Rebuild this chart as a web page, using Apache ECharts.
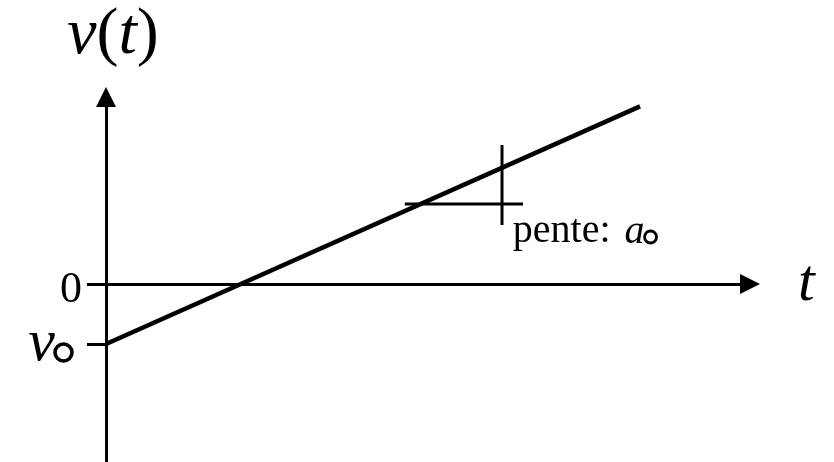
<!DOCTYPE html>
<html>
<head>
<meta charset="utf-8">
<script src="https://cdn.jsdelivr.net/npm/echarts@6/dist/echarts.min.js"></script>
<style>
  html, body { margin: 0; padding: 0; background: #fff; }
  #chart { width: 834px; height: 462px; }
</style>
</head>
<body>
<div id="chart"></div>
<script>
// Velocity v(t) = v0 + a0 * t, drawn over the time axis
const lineT = [0, 8.9];
const lineV = [-1, 2.96];
const v0 = -1;

// Slope marker: a horizontal run and a vertical rise
const runT = [4.98, 6.95];
const runV = [1.333, 1.333];
const riseT = [6.6, 6.6];
const riseV = [2.317, 0.983];

// Where the slope caption sits
const captionT = [6.78];
const captionV = [0.867];

const yTicks = [0, v0];

const serif = '"Liberation Serif", "DejaVu Serif", serif';

function pairs(xs, ys) {
  return xs.map((x, i) => [x, ys[i]]);
}

// hollow "circ" subscript drawn as a round bordered box, sitting on the line bottom
function circ(d, bw) {
  return {
    width: d, height: d, borderRadius: d, borderWidth: bw, borderColor: '#000',
    backgroundColor: 'transparent', color: 'transparent', fontSize: 4,
    verticalAlign: 'bottom'
  };
}

const chart = echarts.init(document.getElementById('chart'), null, { renderer: 'canvas' });

chart.setOption({
  animation: false,
  backgroundColor: '#fff',
  grid: { left: 106, right: 84, top: 97, bottom: 0, containLabel: false },
  xAxis: {
    type: 'value',
    min: 0,
    max: 10.733,
    axisLine: {
      onZero: true,
      symbol: ['none', 'triangle'],
      symbolSize: [20, 20],
      lineStyle: { color: '#000', width: 3 }
    },
    axisTick: { show: false },
    axisLabel: { show: false },
    splitLine: { show: false },
    name: 't',
    nameLocation: 'end',
    nameGap: 48,
    nameTextStyle: {
      fontFamily: serif, fontStyle: 'italic', fontSize: 60, color: '#000',
      verticalAlign: 'middle', padding: [0, 0, 8, 0]
    }
  },
  yAxis: {
    type: 'value',
    min: -2.967,
    max: 3.117,
    axisLine: {
      onZero: false,
      symbol: ['none', 'triangle'],
      symbolSize: [20, 20],
      lineStyle: { color: '#000', width: 3 }
    },
    axisTick: {
      show: true,
      customValues: yTicks,
      length: 19,
      lineStyle: { color: '#000', width: 3 }
    },
    axisLabel: {
      show: true,
      customValues: yTicks,
      margin: 24,
      formatter: function (val) {
        return val === 0 ? '{z|0}' : '{v|v}{c| }{s| }';
      },
      rich: {
        z: { fontFamily: serif, fontSize: 44, color: '#000', padding: [12, 0, 0, 0] },
        v: { fontFamily: serif, fontStyle: 'italic', fontSize: 60, lineHeight: 34, color: '#000' },
        c: circ(17, 1.8),
        s: { width: 10, fontSize: 4 }
      }
    },
    splitLine: { show: false },
    name: '{i|v}{u|(}{i|t}{u|)}',
    nameLocation: 'end',
    nameGap: 28,
    nameTextStyle: {
      padding: [0, 0, 0, 14],
      rich: {
        i: { fontFamily: serif, fontStyle: 'italic', fontSize: 66, color: '#000' },
        u: { fontFamily: serif, fontSize: 66, color: '#000' }
      }
    }
  },
  series: [
    {
      type: 'line',
      data: pairs(lineT, lineV),
      symbol: 'none',
      lineStyle: { color: '#000', width: 4.5, cap: 'butt' },
      z: 3
    },
    {
      type: 'line',
      data: pairs(runT, runV),
      symbol: 'none',
      lineStyle: { color: '#000', width: 3 }
    },
    {
      type: 'line',
      data: pairs(riseT, riseV),
      symbol: 'none',
      lineStyle: { color: '#000', width: 3 }
    },
    {
      type: 'scatter',
      data: pairs(captionT, captionV),
      symbolSize: 0,
      itemStyle: { opacity: 1 },
      label: {
        show: true,
        opacity: 1,
        position: [0, 0],
        align: 'left',
        verticalAlign: 'middle',
        formatter: '{p|pente:}{g| }{a|a}{c| }',
        rich: {
          p: { fontFamily: serif, fontSize: 40, lineHeight: 22, color: '#000' },
          g: { width: 14, fontSize: 4, lineHeight: 22 },
          a: { fontFamily: serif, fontStyle: 'italic', fontSize: 40, lineHeight: 22, color: '#000' },
          c: circ(12, 1.4)
        }
      }
    }
  ]
});
</script>
</body>
</html>
